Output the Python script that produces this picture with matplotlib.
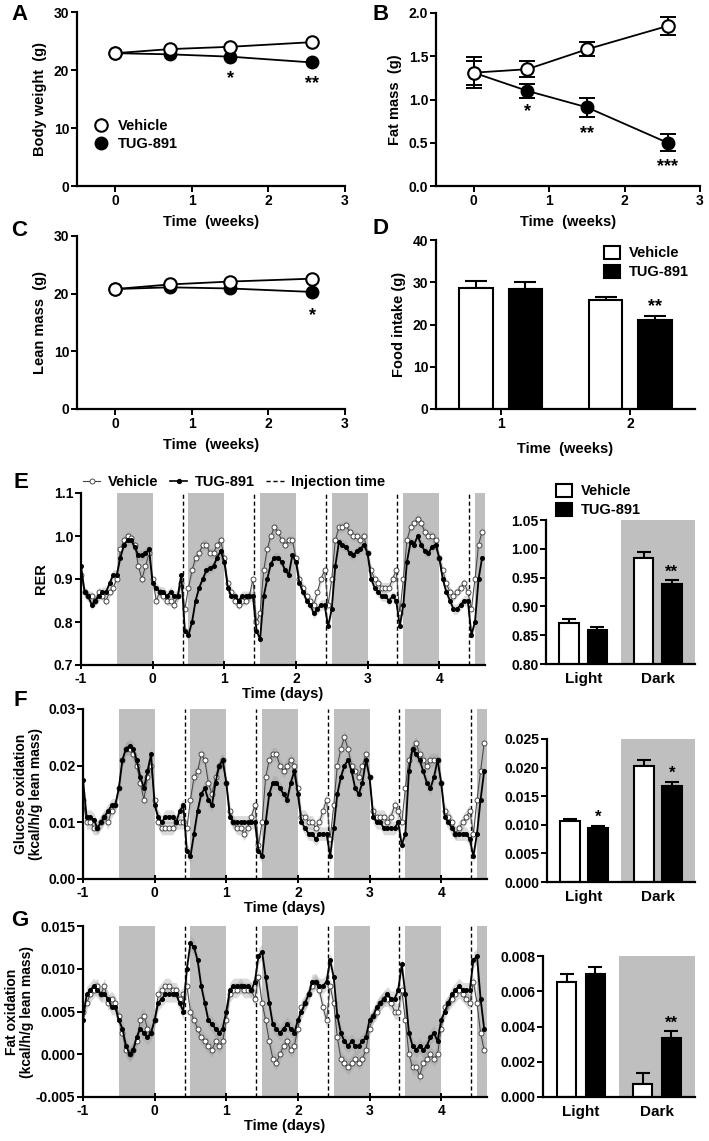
import numpy as np
import matplotlib
matplotlib.use('Agg')
import matplotlib.pyplot as plt
from matplotlib.lines import Line2D
from matplotlib.patches import Patch
from matplotlib.ticker import FormatStrFormatter

plt.rcParams['font.family'] = ['Liberation Sans', 'DejaVu Sans']
plt.rcParams['font.weight'] = 'bold'
plt.rcParams['axes.labelweight'] = 'bold'
plt.rcParams['axes.unicode_minus'] = False

# ---------------- data: panels A-D ----------------
weeks = [0, 0.71, 1.5, 2.57]
bw_vehicle = [22.9, 23.6, 24.0, 24.8]
bw_tug = [22.9, 22.7, 22.3, 21.3]
fat_vehicle = [1.31, 1.35, 1.58, 1.85]
fat_vehicle_err = [0.18, 0.09, 0.08, 0.10]
fat_tug = [1.31, 1.10, 0.91, 0.50]
fat_tug_err = [0.14, 0.08, 0.11, 0.10]
lean_vehicle = [20.8, 21.6, 22.1, 22.6]
lean_tug = [20.8, 21.1, 20.9, 20.3]
food_weeks = [1, 2]
food_vehicle = [28.7, 25.9]
food_vehicle_err = [1.7, 0.6]
food_tug = [28.4, 21.1]
food_tug_err = [1.6, 1.0]

# ---------------- data: panels E-G time courses ----------------
time_days = np.round(np.arange(-1.0, 4.6001, 0.05), 2)
dark_periods = [(-0.5, 0), (0.5, 1), (1.5, 2), (2.5, 3), (3.5, 4), (4.5, 5)]
injection_times = [0.42, 1.42, 2.42, 3.41, 4.41]

rer_vehicle = [0.91, 0.87, 0.86, 0.86, 0.85, 0.87, 0.86, 0.85, 0.87, 0.88, 0.90,
               0.97, 0.99, 1.00, 0.995, 0.98, 0.93, 0.90, 0.93, 0.96, 0.90,
               0.85, 0.87, 0.86, 0.85, 0.85, 0.84, 0.86, 0.89, 0.83, 0.88,
               0.92, 0.95, 0.96, 0.98, 0.98, 0.96, 0.96, 0.98, 0.99, 0.95,
               0.89, 0.87, 0.85, 0.84, 0.85, 0.85, 0.86, 0.90, 0.80, 0.82,
               0.92, 0.97, 1.00, 1.02, 1.01, 0.99, 0.98, 0.99, 0.99, 0.95,
               0.90, 0.88, 0.86, 0.85, 0.84, 0.87, 0.90, 0.92, 0.84, 0.90,
               0.99, 1.02, 1.02, 1.025, 1.01, 1.00, 1.00, 0.99, 1.00, 0.96,
               0.92, 0.90, 0.89, 0.88, 0.88, 0.88, 0.90, 0.92, 0.82, 0.90,
               0.99, 1.02, 1.03, 1.04, 1.03, 1.01, 1.00, 1.00, 0.99, 0.95,
               0.92, 0.89, 0.87, 0.86, 0.87, 0.88, 0.89, 0.87, 0.83, 0.90,
               0.98, 1.01]
rer_tug = [0.93, 0.87, 0.86, 0.84, 0.85, 0.86, 0.87, 0.87, 0.89, 0.91, 0.91,
           0.95, 0.98, 0.99, 0.99, 0.975, 0.955, 0.955, 0.96, 0.97, 0.89,
           0.88, 0.87, 0.87, 0.86, 0.87, 0.86, 0.86, 0.91, 0.78, 0.77,
           0.80, 0.85, 0.88, 0.90, 0.92, 0.925, 0.93, 0.95, 0.965, 0.94,
           0.88, 0.86, 0.86, 0.85, 0.86, 0.86, 0.86, 0.86, 0.78, 0.76,
           0.86, 0.90, 0.935, 0.95, 0.95, 0.94, 0.92, 0.91, 0.955, 0.94,
           0.89, 0.87, 0.85, 0.84, 0.82, 0.83, 0.84, 0.84, 0.79, 0.83,
           0.93, 0.985, 0.98, 0.975, 0.96, 0.955, 0.965, 0.97, 0.98, 0.96,
           0.90, 0.88, 0.87, 0.86, 0.86, 0.85, 0.86, 0.85, 0.79, 0.84,
           0.94, 0.985, 0.98, 1.00, 0.98, 0.965, 0.96, 0.975, 0.98, 0.95,
           0.90, 0.87, 0.85, 0.83, 0.83, 0.84, 0.85, 0.85, 0.77, 0.80,
           0.90, 0.95]
rer_sem = 0.012

glu_vehicle = [0.014, 0.010, 0.010, 0.009, 0.009, 0.010, 0.011, 0.010, 0.012, 0.013, 0.016,
               0.021, 0.023, 0.023, 0.022, 0.020, 0.017, 0.014, 0.018, 0.020, 0.014,
               0.010, 0.009, 0.009, 0.009, 0.009, 0.010, 0.010, 0.010, 0.009, 0.014,
               0.018, 0.019, 0.022, 0.021, 0.017, 0.015, 0.018, 0.020, 0.021, 0.017,
               0.012, 0.010, 0.009, 0.009, 0.008, 0.009, 0.011, 0.013, 0.006, 0.010,
               0.018, 0.021, 0.022, 0.022, 0.020, 0.019, 0.020, 0.021, 0.020, 0.016,
               0.011, 0.011, 0.010, 0.010, 0.009, 0.010, 0.012, 0.014, 0.007, 0.013,
               0.020, 0.023, 0.025, 0.023, 0.020, 0.019, 0.018, 0.020, 0.022, 0.018,
               0.012, 0.011, 0.011, 0.011, 0.010, 0.011, 0.013, 0.012, 0.010, 0.016,
               0.021, 0.023, 0.024, 0.022, 0.021, 0.020, 0.021, 0.021, 0.021, 0.017,
               0.012, 0.011, 0.010, 0.008, 0.009, 0.010, 0.011, 0.012, 0.008, 0.014,
               0.019, 0.024]
glu_tug = [0.0175, 0.011, 0.011, 0.0105, 0.009, 0.010, 0.011, 0.012, 0.013, 0.013, 0.016,
           0.021, 0.023, 0.0235, 0.023, 0.021, 0.018, 0.016, 0.019, 0.022, 0.013,
           0.011, 0.010, 0.011, 0.011, 0.011, 0.010, 0.012, 0.013, 0.005, 0.004,
           0.008, 0.012, 0.015, 0.016, 0.014, 0.013, 0.017, 0.020, 0.021, 0.017,
           0.011, 0.010, 0.010, 0.010, 0.010, 0.010, 0.010, 0.010, 0.005, 0.004,
           0.010, 0.015, 0.017, 0.017, 0.016, 0.015, 0.014, 0.017, 0.019, 0.015,
           0.010, 0.009, 0.008, 0.008, 0.007, 0.008, 0.008, 0.008, 0.004, 0.009,
           0.015, 0.018, 0.020, 0.021, 0.019, 0.016, 0.015, 0.017, 0.021, 0.018,
           0.011, 0.010, 0.010, 0.009, 0.009, 0.009, 0.009, 0.010, 0.006, 0.008,
           0.019, 0.023, 0.022, 0.021, 0.019, 0.017, 0.016, 0.018, 0.021, 0.017,
           0.011, 0.010, 0.009, 0.008, 0.008, 0.008, 0.008, 0.007, 0.004, 0.008,
           0.014, 0.019]
glu_sem = 0.0012

fat_ox_vehicle = [0.005, 0.006, 0.007, 0.0075, 0.008, 0.007, 0.008, 0.006, 0.0065, 0.006, 0.0045,
                  0.0025, 0.0005, 0.0, 0.0005, 0.0015, 0.004, 0.0045, 0.003, 0.0025, 0.004,
                  0.007, 0.0075, 0.008, 0.008, 0.0075, 0.0075, 0.0065, 0.007, 0.008, 0.005,
                  0.004, 0.003, 0.002, 0.0015, 0.001, 0.0005, 0.0015, 0.001, 0.0015, 0.004,
                  0.007, 0.0075, 0.0075, 0.008, 0.0075, 0.0075, 0.0075, 0.0065, 0.009, 0.006,
                  0.004, 0.0015, -0.0005, -0.001, 0.0, 0.001, 0.0015, 0.0005, 0.001, 0.003,
                  0.0055, 0.006, 0.007, 0.008, 0.0085, 0.0075, 0.0055, 0.004, 0.008, 0.006,
                  0.002, -0.0005, -0.001, -0.0015, -0.001, -0.0005, -0.001, -0.0005, 0.0005, 0.003,
                  0.0045, 0.005, 0.006, 0.0065, 0.0065, 0.006, 0.005, 0.005, 0.0075, 0.004,
                  0.0, -0.0015, -0.0015, -0.0025, -0.001, -0.0005, 0.0, -0.0005, 0.0, 0.003,
                  0.0055, 0.006, 0.0065, 0.007, 0.0075, 0.007, 0.0065, 0.006, 0.0085, 0.006,
                  0.0025, 0.0005]
fat_ox_tug = [0.004, 0.007, 0.0075, 0.008, 0.0075, 0.007, 0.007, 0.0065, 0.0055, 0.0055, 0.004,
              0.003, 0.001, 0.0, 0.0005, 0.002, 0.003, 0.0025, 0.002, 0.0025, 0.004,
              0.006, 0.0065, 0.007, 0.007, 0.007, 0.007, 0.006, 0.005, 0.010, 0.013,
              0.0125, 0.011, 0.008, 0.006, 0.004, 0.0035, 0.003, 0.0025, 0.003, 0.005,
              0.0075, 0.008, 0.008, 0.008, 0.008, 0.008, 0.0075, 0.0085, 0.0115, 0.012,
              0.009, 0.006, 0.0035, 0.003, 0.0025, 0.003, 0.0035, 0.003, 0.0025, 0.004,
              0.005, 0.006, 0.007, 0.0085, 0.0085, 0.008, 0.008, 0.0085, 0.011, 0.009,
              0.0045, 0.0025, 0.0015, 0.001, 0.0015, 0.001, 0.001, 0.0015, 0.002, 0.004,
              0.0045, 0.0055, 0.006, 0.0065, 0.007, 0.0065, 0.0065, 0.0075, 0.0105, 0.007,
              0.0025, 0.001, 0.0005, 0.001, 0.0005, 0.001, 0.002, 0.0025, 0.0015, 0.004,
              0.005, 0.006, 0.007, 0.0075, 0.008, 0.0075, 0.0075, 0.0075, 0.011, 0.0115,
              0.0065, 0.003]
fat_ox_sem = 0.0009

# ---------------- data: light/dark bar summaries ----------------
phases = ['Light', 'Dark']
rer_bar_vehicle = [0.871, 0.984]
rer_bar_vehicle_err = [0.007, 0.010]
rer_bar_tug = [0.859, 0.939]
rer_bar_tug_err = [0.006, 0.006]
glu_bar_vehicle = [0.0106, 0.0202]
glu_bar_vehicle_err = [0.0004, 0.0011]
glu_bar_tug = [0.0095, 0.0168]
glu_bar_tug_err = [0.0003, 0.0007]
fat_bar_vehicle = [0.00655, 0.00075]
fat_bar_vehicle_err = [0.00045, 0.00062]
fat_bar_tug = [0.0070, 0.00335]
fat_bar_tug_err = [0.0004, 0.00037]

# ---------------- figure ----------------
W, H = 709, 1141
fig = plt.figure(figsize=(W / 100, H / 100), dpi=100)
GRAY = '#bfbfbf'
TICK_FS = 10
LABEL_FS = 10.5


def add_ax(l, t, r, b):
    return fig.add_axes([l / W, 1 - b / H, (r - l) / W, (b - t) / H])


def style(ax, xdir='out'):
    for s in ['top', 'right']:
        ax.spines[s].set_visible(False)
    for s in ['left', 'bottom']:
        ax.spines[s].set_linewidth(1.6)
    ax.tick_params(axis='y', width=1.4, length=4, labelsize=TICK_FS, pad=1.5)
    ax.tick_params(axis='x', width=1.4, length=4, labelsize=TICK_FS, pad=2, direction=xdir)


def stars(ax, x, y, s, fs=13):
    ax.text(x, y, s, ha='center', va='center', fontsize=fs, fontweight='bold')


def line_panel(ax, veh, tug, ylim, yticks, ylabel, fmt=None, veh_err=None, tug_err=None):
    if tug_err is not None:
        ax.errorbar(weeks, tug, yerr=tug_err, fmt='none', ecolor='k', capsize=6,
                    elinewidth=1.4, capthick=1.4, zorder=1)
        ax.errorbar(weeks, veh, yerr=veh_err, fmt='none', ecolor='k', capsize=6,
                    elinewidth=1.4, capthick=1.4, zorder=1)
    ax.plot(weeks, tug, '-o', color='k', mfc='k', mec='k', ms=9, lw=1.3, zorder=2)
    ax.plot(weeks, veh, '-o', color='k', mfc='white', mec='k', mew=1.5, ms=9, lw=1.3, zorder=3)
    ax.set_xlim(-0.5, 3)
    ax.set_xticks([0, 1, 2, 3])
    ax.set_ylim(*ylim)
    ax.set_yticks(yticks)
    if fmt:
        ax.yaxis.set_major_formatter(FormatStrFormatter(fmt))
    ax.set_ylabel(ylabel, fontsize=LABEL_FS, labelpad=5)
    ax.set_xlabel('Time  (weeks)', fontsize=LABEL_FS, labelpad=5)
    style(ax)


# A
axA = add_ax(77, 12, 345, 186)
line_panel(axA, bw_vehicle, bw_tug, (0, 30), [0, 10, 20, 30], 'Body weight  (g)')
stars(axA, weeks[2], 18.6, '*')
stars(axA, weeks[3], 17.6, '**')
hA = [Line2D([], [], ls='none', marker='o', ms=9, mfc='white', mec='k', mew=1.5),
      Line2D([], [], ls='none', marker='o', ms=9, mfc='k', mec='k')]
axA.legend(hA, ['Vehicle', 'TUG-891'], loc='upper left', bbox_to_anchor=(0.04, 0.42),
           frameon=False, fontsize=10.5, handlelength=1.0, handletextpad=0.7,
           labelspacing=0.3, borderaxespad=0)

# B
axB = add_ax(436, 13, 700, 186)
line_panel(axB, fat_vehicle, fat_tug, (0, 2.0), [0, 0.5, 1.0, 1.5, 2.0], 'Fat mass  (g)', '%.1f',
           fat_vehicle_err, fat_tug_err)
stars(axB, weeks[1], 0.86, '*')
stars(axB, weeks[2], 0.61, '**')
stars(axB, weeks[3], 0.22, '***')

# C
axC = add_ax(77, 236, 345, 409)
line_panel(axC, lean_vehicle, lean_tug, (0, 30), [0, 10, 20, 30], 'Lean mass  (g)')
stars(axC, weeks[3], 16.2, '*')

# D
axD = add_ax(436, 240, 695, 409)
off, bw = 0.19, 0.26
xd = np.array(food_weeks, dtype=float)
axD.bar(xd - off, food_vehicle, bw, color='white', edgecolor='k', lw=1.5, zorder=2)
axD.bar(xd + off, food_tug, bw, color='k', edgecolor='k', lw=1.5, zorder=2)
axD.errorbar(xd - off, food_vehicle, yerr=[[0, 0], food_vehicle_err], fmt='none', ecolor='k',
             capsize=8, elinewidth=1.5, capthick=1.5, zorder=1)
axD.errorbar(xd + off, food_tug, yerr=[[0, 0], food_tug_err], fmt='none', ecolor='k',
             capsize=8, elinewidth=1.5, capthick=1.5, zorder=1)
stars(axD, xd[1] + off, food_tug[1] + food_tug_err[1] + 2.2, '**')
axD.set_xlim(0.5, 2.5)
axD.set_xticks(food_weeks)
axD.set_ylim(0, 40)
axD.set_yticks([0, 10, 20, 30, 40])
axD.set_ylabel('Food intake (g)', fontsize=LABEL_FS, labelpad=5)
axD.set_xlabel('Time  (weeks)', fontsize=LABEL_FS, labelpad=8)
style(axD)
hD = [Patch(facecolor='white', edgecolor='k', lw=1.5), Patch(facecolor='k', edgecolor='k', lw=1.5)]
axD.legend(hD, ['Vehicle', 'TUG-891'], loc='upper right', bbox_to_anchor=(1.0, 1.0),
           frameon=False, fontsize=10.5, handlelength=1.1, handleheight=1.0,
           handletextpad=0.6, labelspacing=0.3, borderaxespad=0)


# ---------------- time-course panels ----------------
def time_panel(ax, veh, tug, sem, ylim, yticks, fmt, ylabel, lab_fs=LABEL_FS, lab_pad=4):
    for a, b in dark_periods:
        ax.axvspan(a, b, color=GRAY, lw=0, zorder=0)
    for t0 in injection_times:
        ax.axvline(t0, color='k', lw=1.0, ls=(0, (3, 2)), zorder=1)
    v = np.array(veh)
    tg = np.array(tug)
    ax.fill_between(time_days, v - sem, v + sem, color='#9a9a9a', alpha=0.35, lw=0, zorder=1.5)
    ax.fill_between(time_days, tg - sem, tg + sem, color='#9a9a9a', alpha=0.35, lw=0, zorder=1.5)
    ax.plot(time_days, veh, '-', color='#444444', lw=0.7, marker='o', ms=3.6,
            mfc='white', mec='#333333', mew=0.6, zorder=2)
    ax.plot(time_days, tug, '-', color='k', lw=1.3, marker='o', ms=2.6,
            mfc='k', mec='k', zorder=3)
    ax.set_xlim(-1, 4.64)
    ax.set_xticks([-1, 0, 1, 2, 3, 4])
    ax.set_ylim(*ylim)
    ax.set_yticks(yticks)
    ax.yaxis.set_major_formatter(FormatStrFormatter(fmt))
    ax.set_xlabel('Time (days)', fontsize=LABEL_FS, labelpad=1)
    ax.set_ylabel(ylabel, fontsize=lab_fs, labelpad=lab_pad, linespacing=1.05)
    style(ax, xdir='inout')
    ax.tick_params(axis='x', length=6)


def bar_panel(ax, veh, veh_err, tug, tug_err, ylim, yticks, fmt, sig):
    ax.axvspan(0.5, 1.5, color=GRAY, lw=0, zorder=0)
    x = np.arange(len(phases), dtype=float)
    o, w = 0.19, 0.26
    ax.bar(x - o, veh, w, color='white', edgecolor='k', lw=1.5, zorder=2)
    ax.bar(x + o, tug, w, color='k', edgecolor='k', lw=1.5, zorder=2)
    ax.errorbar(x - o, veh, yerr=[[0, 0], veh_err], fmt='none', ecolor='k', capsize=5,
                elinewidth=1.5, capthick=1.5, zorder=1)
    ax.errorbar(x + o, tug, yerr=[[0, 0], tug_err], fmt='none', ecolor='k', capsize=5,
                elinewidth=1.5, capthick=1.5, zorder=1)
    span = ylim[1] - ylim[0]
    for i, s in enumerate(sig):
        if s:
            stars(ax, x[i] + o, tug[i] + tug_err[i] + 0.06 * span, s, fs=12)
    ax.set_xlim(-0.5, 1.5)
    ax.set_xticks(x)
    ax.set_xticklabels(phases)
    ax.set_ylim(*ylim)
    ax.set_yticks(yticks)
    ax.yaxis.set_major_formatter(FormatStrFormatter(fmt))
    style(ax)
    ax.tick_params(axis='x', length=0, pad=6, labelsize=LABEL_FS + 0.5)


# E
axE = add_ax(81, 493, 485, 665)
time_panel(axE, rer_vehicle, rer_tug, rer_sem, (0.7, 1.1), [0.7, 0.8, 0.9, 1.0, 1.1], '%.1f', 'RER')
hE = [Line2D([], [], color='#444444', lw=0.8, marker='o', ms=3.6, mfc='white', mec='#333333', mew=0.6),
      Line2D([], [], color='k', lw=1.2, marker='o', ms=2.8, mfc='k'),
      Line2D([], [], color='k', lw=1.0, ls=(0, (3, 2)))]
axE.legend(hE, ['Vehicle', 'TUG-891', 'Injection time'], loc='lower left',
           bbox_to_anchor=(-0.01, 0.99), ncol=3, frameon=False, fontsize=10.5,
           handlelength=1.2, handletextpad=0.5, columnspacing=0.8, borderaxespad=0)

axE2 = add_ax(546, 520, 695, 664)
bar_panel(axE2, rer_bar_vehicle, rer_bar_vehicle_err, rer_bar_tug, rer_bar_tug_err,
          (0.80, 1.05), [0.80, 0.85, 0.90, 0.95, 1.00, 1.05], '%.2f', ['', '**'])
axE2.legend(hD, ['Vehicle', 'TUG-891'], loc='lower left', bbox_to_anchor=(0.03, 0.98),
            frameon=False, fontsize=10.5, handlelength=1.1, handleheight=1.0,
            handletextpad=0.6, labelspacing=0.3, borderaxespad=0)

# F
axF = add_ax(83, 709, 487, 879)
time_panel(axF, glu_vehicle, glu_tug, glu_sem, (0, 0.03), [0, 0.01, 0.02, 0.03], '%.2f',
           'Glucose oxidation\n(kcal/h/g lean mass)', lab_fs=10, lab_pad=4)
axF2 = add_ax(547, 739, 695, 882)
bar_panel(axF2, glu_bar_vehicle, glu_bar_vehicle_err, glu_bar_tug, glu_bar_tug_err,
          (0, 0.025), [0, 0.005, 0.010, 0.015, 0.020, 0.025], '%.3f', ['*', '*'])

# G
axG = add_ax(83, 926, 487, 1097)
time_panel(axG, fat_ox_vehicle, fat_ox_tug, fat_ox_sem, (-0.005, 0.015),
           [-0.005, 0, 0.005, 0.010, 0.015], '%.3f', 'Fat oxidation\n(kcal/h/g lean mass)',
           lab_fs=10, lab_pad=1.5)
axG2 = add_ax(543, 956, 695, 1097)
bar_panel(axG2, fat_bar_vehicle, fat_bar_vehicle_err, fat_bar_tug, fat_bar_tug_err,
          (0, 0.008), [0, 0.002, 0.004, 0.006, 0.008], '%.3f', ['', '**'])

# panel letters
for letter, (px, py) in {'A': (19, 14), 'B': (381, 14), 'C': (19, 231), 'D': (380, 228),
                         'E': (21, 482), 'F': (20, 700), 'G': (20, 920)}.items():
    fig.text(px / W, 1 - py / H, letter, fontsize=16, fontweight='bold', ha='center', va='center')

fig.savefig('out.png', dpi=100)
